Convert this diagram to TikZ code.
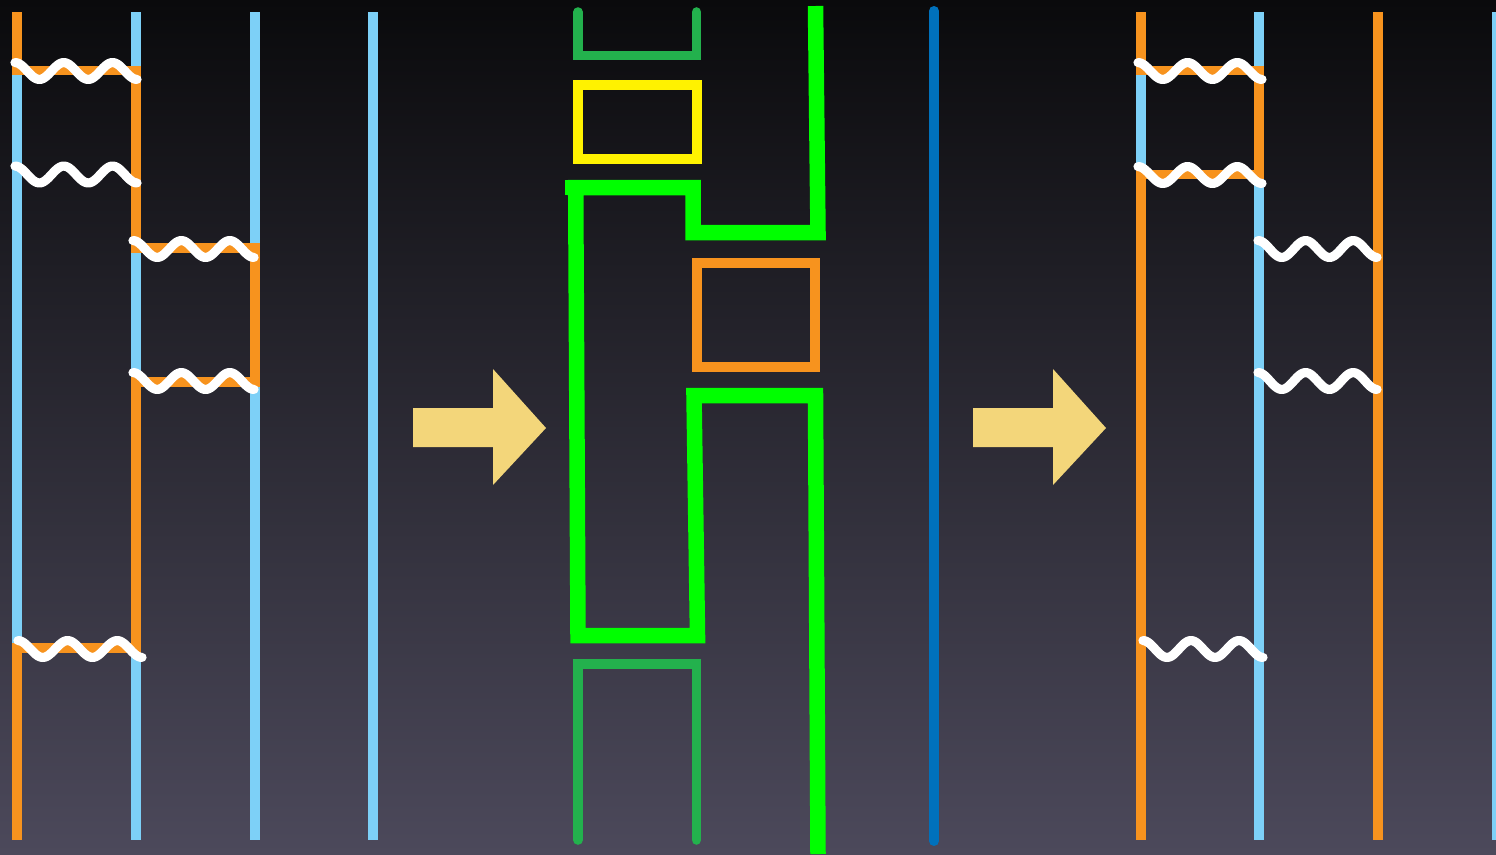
\documentclass[tikz,border=0pt]{standalone}
\definecolor{bgtop}{RGB}{10,10,12}
\definecolor{bgbot}{RGB}{76,73,91}
\definecolor{lblue}{RGB}{125,208,247}
\definecolor{orng}{RGB}{247,147,30}
\definecolor{dgreen}{RGB}{35,177,77}
\definecolor{bgreen}{RGB}{0,255,0}
\definecolor{yel}{RGB}{255,242,0}
\definecolor{dblue}{RGB}{0,113,188}
\definecolor{arrowc}{RGB}{243,214,122}
\begin{document}
\begin{tikzpicture}[x=1pt,y=-1pt,
  bluel/.style={draw=lblue,line width=9.6pt},
  orangel/.style={draw=orng,line width=9.6pt,line join=miter},
  wave/.style={draw=white,line width=9.2pt,line cap=round,line join=round},
  dgreenl/.style={draw=dgreen,line width=9.6pt,line cap=round,line join=miter},
  bgreenl/.style={draw=bgreen,line width=15.5pt,line join=miter},
  boxl/.style={line width=10pt,line join=miter},
  bigarrow/.style={fill=arrowc,draw=none}
]
\newcommand\wavyline[3]{\draw[wave] plot[domain=0:900,samples=120,smooth,variable=\t] ({#1+(#2-#1)*(\t/900)},{#3-8.4*cos(\t)});}
\useasboundingbox (0,0) rectangle (1496,854);
\shade[top color=bgtop,bottom color=bgbot] (0,0) rectangle (1496,854);

% ---------- left panel ----------
\foreach \xx in {17,136,255,373} \draw[bluel] (\xx,12) -- (\xx,840);
\draw[orangel] (17,12) -- (17,70.5) -- (136,70.5) -- (136,248) -- (255,248) -- (255,382) -- (136,382) -- (136,648) -- (17,648) -- (17,840);
\wavyline{15}{137}{71}
\wavyline{15}{137}{174.5}
\wavyline{133}{254}{249}
\wavyline{133}{254}{381}
\wavyline{18}{142}{649}

% ---------- arrows ----------
\fill[bigarrow] (413,408) -- (493,408) -- (493,369) -- (546,428) -- (493,485) -- (493,447) -- (413,447) -- cycle;
\fill[bigarrow] (973,408) -- (1053,408) -- (1053,369) -- (1106,428) -- (1053,485) -- (1053,447) -- (973,447) -- cycle;

% ---------- middle panel ----------
\draw[dgreenl] (578,12) -- (578,55.5) -- (696.5,55.5) -- (696.5,12);
\draw[boxl,draw=yel] (577.7,85) rectangle (696.7,159.3);
\draw[boxl,draw=orng] (696.7,263.3) rectangle (815,366.7);
\draw[bgreenl] (818,854) -- (815.5,395.5) -- (694,395.5) -- (697.5,635.5) -- (578,635.5) -- (575.7,187.5) -- (693,187.5) -- (693,232.5) -- (818,232.5) -- (815.5,6);
\draw[bgreenl] (565,187.5) -- (580,187.5);
\draw[dgreenl] (578,840) -- (578,663.7) -- (696.4,663.7) -- (696.4,840);
\draw[draw=dblue,line width=10pt,line cap=round] (934,11) -- (934,841);

% ---------- right panel ----------
\foreach \xx in {1141,1259,1496.5} \draw[bluel] (\xx,12) -- (\xx,840);
\draw[orangel] (1378,12) -- (1378,840);
\draw[orangel] (1141,12) -- (1141,70.5) -- (1259,70.5) -- (1259,174.5) -- (1141,174.5) -- (1141,840);
\wavyline{1138}{1262}{71}
\wavyline{1138}{1262}{175}
\wavyline{1258}{1377}{249}
\wavyline{1258}{1377}{381}
\wavyline{1143}{1263}{649}
\end{tikzpicture}
\end{document}
